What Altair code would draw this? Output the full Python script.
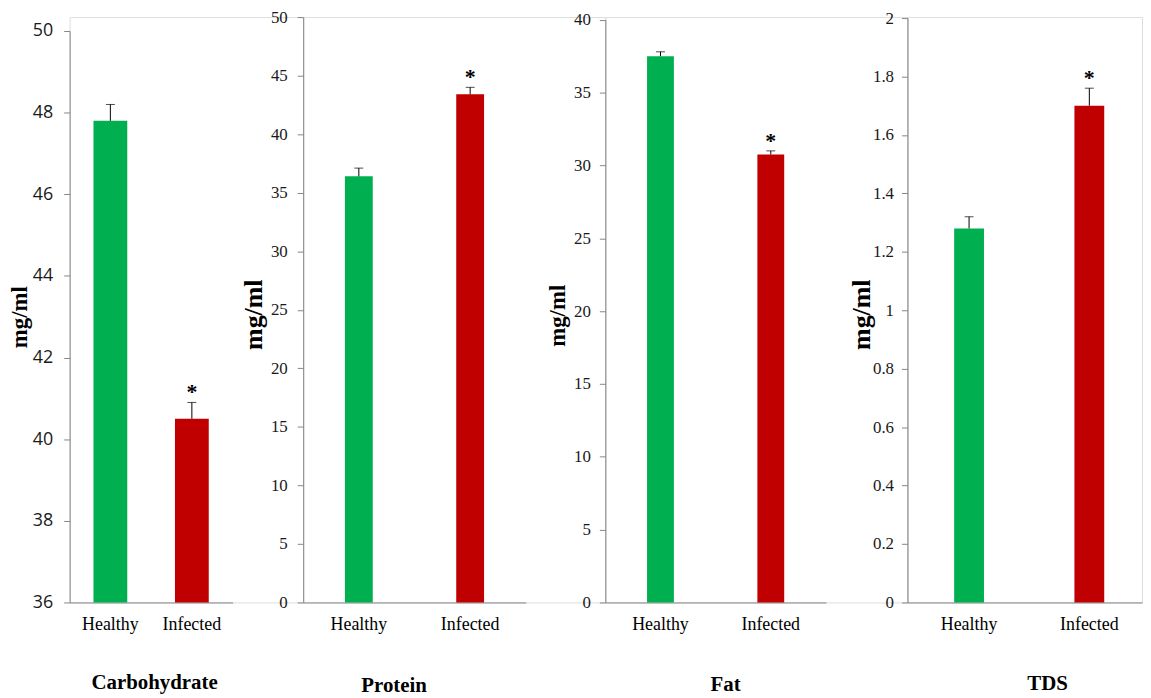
import altair as alt
import pandas as pd

# ---------------- data ----------------
groups = ["Healthy", "Infected"]
signif = ["", "*"]
bar_colors = ["#00B050", "#C00000"]

carb_mean = [47.8, 40.5]
carb_err = [0.4, 0.4]
protein_mean = [36.4, 43.4]
protein_err = [0.7, 0.6]
fat_mean = [37.5, 30.75]
fat_err = [0.3, 0.25]
tds_mean = [1.28, 1.70]
tds_err = [0.04, 0.06]

carb_ticks = [36, 38, 40, 42, 44, 46, 48, 50]
protein_ticks = [0, 5, 10, 15, 20, 25, 30, 35, 40, 45, 50]
fat_ticks = [0, 5, 10, 15, 20, 25, 30, 35, 40]
tds_ticks = [0, 0.2, 0.4, 0.6, 0.8, 1, 1.2, 1.4, 1.6, 1.8, 2]

panel_titles = ["Carbohydrate", "Protein", "Fat", "TDS"]
y_title = "mg/ml"

# ---------------- styling / layout ----------------
H = 589
AXIS_GRAY = "#868686"
SERIF = "Liberation Serif"


def make_panel(title, means, errs, ticks, cfg):
    df = pd.DataFrame({
        "group": groups,
        "mean": means,
        "top": [m + e for m, e in zip(means, errs)],
        "sig": signif,
    })
    xscale = alt.Scale(domain=groups, range=cfg["xrange"],
                       paddingInner=cfg.get("pi", 0), paddingOuter=cfg.get("po", 0),
                       align=cfg.get("align", 0.5))
    xaxis = alt.Axis(
        title=title, labelAngle=0, ticks=False, tickSize=0, grid=False,
        domainColor=AXIS_GRAY, domainWidth=1,
        labelFont=SERIF, labelFontSize=18, labelColor="#000000",
        labelPadding=13,
        titleFont=SERIF, titleFontSize=21, titleFontWeight="bold",
        titleColor="#000000", titleX=cfg["tx"], titleY=cfg["ty"],
        titleAlign="center", titleBaseline="alphabetic",
    )
    yscale = alt.Scale(domain=[ticks[0], ticks[-1]], range=[H, cfg["ytop"]],
                       nice=False, zero=False)
    yaxis = alt.Axis(
        title=y_title, values=ticks, format="~g", grid=False,
        domainColor=AXIS_GRAY, tickColor=AXIS_GRAY, tickSize=6,
        labelFont=cfg["lfont"], labelFontSize=cfg["lsize"], labelColor="#1a1a1a",
        labelPadding=cfg["lpad"],
        titleFont=SERIF, titleFontSize=cfg["ytsize"],
        titleFontWeight="bold", titleColor="#000000",
        titleX=cfg["ytx"], titleY=cfg["yty"], titleAngle=270,
        titleAlign="center", titleBaseline="middle",
    )
    x = alt.X("group:N", scale=xscale, axis=xaxis, sort=groups)
    base = alt.Chart(df)
    bars = base.mark_bar(size=cfg["bw"]).encode(
        x=x,
        y=alt.Y("mean:Q", scale=yscale, axis=yaxis, title=y_title),
        y2=alt.datum(ticks[0]),
        color=alt.Color("group:N", scale=alt.Scale(domain=groups, range=bar_colors),
                        legend=None),
    )
    rule = base.mark_rule(color="black", strokeWidth=1).encode(
        x=x,
        y=alt.Y("mean:Q", scale=yscale, axis=yaxis, title=y_title),
        y2="top:Q",
    )
    cap = base.mark_tick(color="black", thickness=1, size=9).encode(
        x=x,
        y=alt.Y("top:Q", scale=yscale, axis=yaxis, title=y_title),
    )
    star = base.mark_text(font=SERIF, fontSize=22, fontWeight="bold",
                          baseline="alphabetic", dy=-3, color="black").encode(
        x=x,
        y=alt.Y("top:Q", scale=yscale, axis=yaxis, title=y_title),
        text="sig:N",
    )
    return alt.layer(bars, rule, cap, star).properties(width=cfg["w"], height=H)


p1 = make_panel(panel_titles[0], carb_mean, carb_err, carb_ticks, dict(
    w=235, xrange=[0, 164], bw=34, tx=85, ty=87, ytop=14,
    lfont="Open Sans", lsize=18, lpad=11, ytsize=23, ytx=-50.5, yty=301.5))
p2 = make_panel(panel_titles[1], protein_mean, protein_err, protein_ticks, dict(
    w=304, xrange=[0, 224], bw=28, tx=91, ty=90, ytop=0,
    lfont=SERIF, lsize=17, lpad=10, ytsize=26, ytx=-50, yty=299))
p3 = make_panel(panel_titles[2], fat_mean, fat_err, fat_ticks, dict(
    w=304, xrange=[0, 222], bw=27, tx=120.5, ty=89, ytop=2.7,
    lfont=SERIF, lsize=17, lpad=9, ytsize=23, ytx=-48, yty=300))
p4 = make_panel(panel_titles[3], tds_mean, tds_err, tds_ticks, dict(
    w=236, xrange=[0, 236], pi=0.124, po=0.0372, align=1, bw=30, tx=140.5, ty=88,
    ytop=1, lfont=SERIF, lsize=17, lpad=8, ytsize=26, ytx=-46,
    yty=299))

chart = alt.hconcat(p1, p2, p3, p4, spacing=0, bounds="flush").properties(
    padding={"left": 0, "top": -3, "right": 0, "bottom": 0}
).configure_view(stroke=None).configure(
    background="white"
).configure_axis(labelFont=SERIF)

chart.save("out.html", embed_options={"renderer": "svg", "actions": False})
